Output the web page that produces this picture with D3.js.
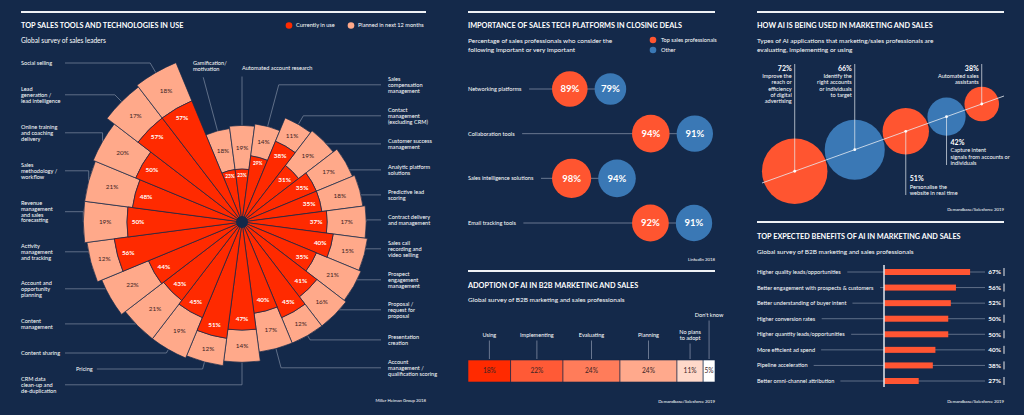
<!DOCTYPE html>
<html>
<head>
<meta charset="utf-8">
<script src="https://cdn.jsdelivr.net/npm/d3@7"></script>
<style>
  body { margin: 0; background: #14294a; }
  svg text { font-family: Lato, "Open Sans", sans-serif; fill: #fff; }
</style>
</head>
<body>
<div id="chart"></div>
<script>
// ---- data ----
var toolNames = [
  "Gamification/\nmotivation", "Automated account research", "Sales\ncompensation\nmanagement",
  "Contact\nmanagement\n(excluding CRM)", "Customer success\nmanagement", "Analytic platform\nsolutions",
  "Predictive lead\nscoring", "Contract delivery\nand management", "Sales call\nrecording and\nvideo selling",
  "Prospect\nengagement\nmanagement", "Proposal /\nrequest for\nproposal", "Presentation\ncreation",
  "Account\nmanagement /\nqualification scoring", "CRM data\nclean-up and\nde-duplication", "Pricing",
  "Content sharing", "Content\nmanagement", "Account and\nopportunity\nplanning",
  "Activity\nmanagement\nand tracking", "Revenue\nmanagement\nand sales\nforecasting", "Sales\nmethodology /\nworkflow",
  "Online training\nand coaching\ndelivery", "Lead\ngeneration /\nlead intelligence", "Social selling"
];
var toolsInUse   = [23, 23, 29, 38, 31, 35, 35, 37, 40, 35, 41, 45, 40, 47, 51, 45, 43, 44, 56, 50, 48, 50, 57, 57];
var toolsPlanned = [18, 19, 14, 11, 19, 17, 18, 17, 15, 21, 16, 12, 17, 14, 12, 19, 21, 22, 12, 19, 21, 20, 17, 18];

var platformNames = ["Networking platforms", "Collaboration tools", "Sales intelligence solutions", "Email tracking tools"];
var topPros   = [89, 94, 98, 92];
var otherPros = [79, 91, 94, 91];

var adoptNames  = ["Using", "Implementing", "Evaluating", "Planning", "No plans\nto adopt", "Don't know"];
var adoptValues = [18, 22, 24, 24, 11, 5];

var aiUseNames = ["Improve the\nreach or\nefficiency\nof digital\nadvertising", "Identify the\nright accounts\nor individuals\nto target",
  "Personalise the\nwebsite in real time", "Capture intent\nsignals from accounts or\nindividuals", "Automated sales\nassistants"];
var aiUseValues = [72, 66, 51, 42, 38];

var benefitNames = ["Higher quality leads/opportunities", "Better engagement with prospects & customers",
  "Better understanding of buyer intent", "Higher conversion rates", "Higher quantity leads/opportunities",
  "More efficient ad spend", "Pipeline acceleration", "Better omni-channel attribution"];
var benefitValues = [67, 56, 52, 50, 50, 40, 38, 27];

// ---- layout (label placement only) ----
var toolLabelX = [193, 242, 388, 388, 388, 388, 388, 388, 388, 388, 388, 388, 388, 21, 76, 21, 21, 21, 21, 21, 21, 21, 21, 21];
var toolLabelY = [63, 68, 79, 110, 141, 167, 192, 217, 243, 274, 304, 337, 362, 379, 369, 353, 321, 283, 246, 203, 165, 127, 89, 63];
var adoptLabelY = [335, 335, 335, 335, 332, 315];
var aiLabelBottom = [null, null, 195, 165, null];

var bg = "#14294a", red = "#ff2a00", peach = "#ffa98a", orange = "#ff5530", blue = "#3a78b5";
var grey = "#7f8ca2", darkText = "#3b2424";
var LH = 5.8;

var svg = d3.select("#chart").append("svg").attr("width", 1024).attr("height", 415);
svg.append("rect").attr("width", 1024).attr("height", 415).attr("fill", bg);

function lines(g, txt, x, y, lh, size, anchor, weight) {
  var t = g.append("text").attr("font-size", size).attr("text-anchor", anchor || "start");
  if (weight) t.attr("font-weight", weight);
  txt.split("\n").forEach(function(l, i) {
    t.append("tspan").attr("x", x).attr("y", y + i * lh).attr("dy", "0.35em").text(l);
  });
  return t;
}
function rule(x1, x2, y) {
  svg.append("line").attr("x1", x1).attr("x2", x2).attr("y1", y).attr("y2", y)
    .attr("stroke", "#eef1f5").attr("stroke-width", 2);
}
function title(x, y, txt) { lines(svg, txt, x, y, 0, 7.3, "start", "bold"); }
function source(x, y, txt) { lines(svg, txt, x, y, 0, 4.3, "end"); }

// ================= panel 1: radial =================
rule(21, 426, 12);
title(21, 25.5, "TOP SALES TOOLS AND TECHNOLOGIES IN USE");
lines(svg, "Global survey of sales leaders", 21, 41, 0, 6.6);
[["Currently in use", red, 289], ["Planned in next 12 months", peach, 351]].forEach(function(l) {
  svg.append("circle").attr("cx", l[2]).attr("cy", 25.5).attr("r", 3.3).attr("fill", l[1]);
  lines(svg, l[0], l[2] + 7, 25.5, 0, 5.6);
});
source(426, 400, "Miller Heiman Group 2018");

var cx = 242, cy = 222;
var idx = d3.range(toolNames.length);
var ang = d3.scaleBand().domain(idx).range([-Math.PI / 8, 2 * Math.PI - Math.PI / 8]).padding(0);
var rad = d3.scaleLinear().domain([0, 100]).range([0, 230]);
var arc = d3.arc();

var leaderG = svg.append("g");
var g1 = svg.append("g").attr("transform", "translate(" + cx + "," + cy + ")");

// labels + leader lines
idx.forEach(function(i) {
  var a = ang(i) + ang.bandwidth() / 2;
  var r = rad(toolsInUse[i] + toolsPlanned[i]);
  var dx = Math.sin(a), dy = -Math.cos(a);
  var ax = cx + r * dx, ay = cy + r * dy;
  var n = toolNames[i].split("\n").length;
  var top = i < 2, left = toolLabelX[i] < cx && !top;
  var t = lines(svg, toolNames[i], toolLabelX[i], toolLabelY[i], LH, 5.6);
  var ly = top ? toolLabelY[i] + (n - 1) * LH + 8.5 : toolLabelY[i] + (n - 1) * LH / 2;
  var ex = ax;
  if (Math.abs(dy) > 0.7) {
    var k = (ly - ay) / dy;
    if (k > 0) ex = ax + dx * k;
  }
  var p;
  if (top) p = "M" + ex + "," + ly + "L" + ax + "," + ay;
  else {
    var sx = left ? Math.max(65, toolLabelX[i] + t.node().getBBox().width + 4) : toolLabelX[i] - 7;
    p = "M" + sx + "," + ly + "H" + ex + "L" + ax + "," + ay;
  }
  leaderG.append("path").attr("d", p).attr("fill", "none").attr("stroke", grey).attr("stroke-width", 0.7);
});

g1.selectAll(".planned").data(idx).join("path")
  .attr("d", function(i) {
    return arc({ innerRadius: rad(toolsInUse[i]), outerRadius: rad(toolsInUse[i] + toolsPlanned[i]),
      startAngle: ang(i), endAngle: ang(i) + ang.bandwidth() });
  })
  .attr("fill", peach).attr("stroke", bg).attr("stroke-width", 0.7);
g1.selectAll(".inuse").data(idx).join("path")
  .attr("d", function(i) {
    return arc({ innerRadius: 0, outerRadius: rad(toolsInUse[i]), startAngle: ang(i), endAngle: ang(i) + ang.bandwidth() });
  })
  .attr("fill", red).attr("stroke", bg).attr("stroke-width", 0.7);
g1.append("circle").attr("r", 6).attr("fill", bg);

idx.forEach(function(i) {
  var a = ang(i) + ang.bandwidth() / 2;
  var small = toolsInUse[i] < 30;
  var r1 = rad(toolsInUse[i]) - (small ? 6 : 11);
  lines(g1, toolsInUse[i] + "%", r1 * Math.sin(a), -r1 * Math.cos(a), 0, small ? 4.8 : 6.4, "middle", "bold");
  var r2 = rad(toolsInUse[i] + toolsPlanned[i] / 2);
  lines(g1, toolsPlanned[i] + "%", r2 * Math.sin(a), -r2 * Math.cos(a), 0, 6.4, "middle").style("fill", darkText);
});

// ================= panel 2: importance =================
rule(468, 715, 12);
title(468, 25.5, "IMPORTANCE OF SALES TECH PLATFORMS IN CLOSING DEALS");
lines(svg, "Percentage of sales professionals who consider the\nfollowing important or very important", 468, 41, 8.3, 6.5);
[["Top sales professionals", orange, 40], ["Other", blue, 50]].forEach(function(l) {
  svg.append("circle").attr("cx", 653).attr("cy", l[2]).attr("r", 3.3).attr("fill", l[1]);
  lines(svg, l[0], 661, l[2], 0, 5.6);
});
source(715, 259, "LinkedIn 2018");

var rowY = d3.scalePoint().domain(platformNames).range([89, 223]);
var cr = d3.scaleLinear().domain([0, 100]).range([0, 20]);
platformNames.forEach(function(name, i) {
  var y = rowY(name);
  var x0 = i % 2 ? 632 : 552;
  var c1 = x0 + cr(topPros[i]);
  var c2 = x0 + 2 * cr(topPros[i]) + 7 + cr(otherPros[i]);
  var t = lines(svg, name, 468, y, 0, 5.6);
  var sx = Math.max(521, 468 + t.node().getBBox().width + 7);
  svg.append("line").attr("x1", sx).attr("x2", c2).attr("y1", y).attr("y2", y).attr("stroke", grey).attr("stroke-width", 0.8);
  svg.append("circle").attr("cx", c1).attr("cy", y).attr("r", cr(topPros[i])).attr("fill", orange);
  svg.append("circle").attr("cx", c2).attr("cy", y).attr("r", cr(otherPros[i])).attr("fill", blue);
  lines(svg, topPros[i] + "%", c1, y, 0, 9.5, "middle", "bold");
  lines(svg, otherPros[i] + "%", c2, y, 0, 9.5, "middle", "bold");
});

// ================= panel 3: adoption =================
rule(468, 715, 271);
title(468, 285.5, "ADOPTION OF AI IN B2B MARKETING AND SALES");
lines(svg, "Global survey of B2B marketing and sales professionals", 468, 300, 0, 6.5);
source(715, 401, "Demandbase/Salesforce 2019");

var adoptColors = ["#ff2a00", "#ff5a36", "#ff7c5a", "#ffa98c", "#ffd8c9", "#ffffff"];
var ax = d3.scaleLinear().domain([0, d3.sum(adoptValues)]).range([468, 715]);
var cum = 0;
adoptValues.forEach(function(v, i) {
  var xa = ax(cum), xb = ax(cum + v), mid = (xa + xb) / 2;
  cum += v;
  svg.append("rect").attr("x", xa).attr("y", 360).attr("width", xb - xa).attr("height", 22)
    .attr("fill", adoptColors[i]).attr("stroke", bg).attr("stroke-width", 0.6);
  lines(svg, v + "%", mid, 371, 0, 6.6, "middle").style("fill", darkText);
  var n = adoptNames[i].split("\n").length;
  lines(svg, adoptNames[i], mid, adoptLabelY[i], 6, 5.6, "middle");
  svg.append("line").attr("x1", mid).attr("x2", mid)
    .attr("y1", adoptLabelY[i] + (n - 1) * 6 + 5.5).attr("y2", 359)
    .attr("stroke", grey).attr("stroke-width", 0.8);
});

// ================= panel 4: AI use bubbles =================
rule(757, 1004, 12);
title(757, 25.5, "HOW AI IS BEING USED IN MARKETING AND SALES");
lines(svg, "Types of AI applications that marketing/sales professionals are\nevaluating, implementing or using", 757, 41, 8.3, 6.5);
source(1004, 209, "Demandbase/Salesforce 2019");

var p0 = [762, 183], p1 = [1004, 96];
var len = Math.hypot(p1[0] - p0[0], p1[1] - p0[1]);
var ux = (p1[0] - p0[0]) / len, uy = (p1[1] - p0[1]) / len;
var br = d3.scaleLinear().domain([0, 100]).range([0, 45.5]);
var s = 2;
var centers = aiUseValues.map(function(v, i) {
  s += br(v);
  var c = [p0[0] + ux * s, p0[1] + uy * s];
  s += br(v) + 1;
  return c;
});
aiUseValues.forEach(function(v, i) {
  svg.append("circle").attr("cx", centers[i][0]).attr("cy", centers[i][1]).attr("r", br(v))
    .attr("fill", i % 2 ? blue : orange);
});
svg.append("line").attr("x1", p0[0]).attr("y1", p0[1]).attr("x2", p1[0]).attr("y2", p1[1])
  .attr("stroke", "#e8ecf2").attr("stroke-width", 0.8);
aiUseValues.forEach(function(v, i) {
  var c = centers[i];
  var n = aiUseNames[i].split("\n").length;
  if (aiLabelBottom[i] == null) {
    svg.append("line").attr("x1", c[0]).attr("x2", c[0]).attr("y1", 64).attr("y2", c[1])
      .attr("stroke", "#e8ecf2").attr("stroke-width", 0.7);
    lines(svg, v + "%", c[0] - 3, 69, 0, 7, "end", "bold");
    lines(svg, aiUseNames[i], c[0] - 3, 76, 6.3, 5.6, "end");
  } else {
    var b = aiLabelBottom[i];
    svg.append("line").attr("x1", c[0]).attr("x2", c[0]).attr("y1", c[1]).attr("y2", b)
      .attr("stroke", "#e8ecf2").attr("stroke-width", 0.7);
    var first = b - 1.5 - (n - 1) * 6.6;
    lines(svg, v + "%", c[0] + 4, first - 8, 0, 7, "start", "bold");
    lines(svg, aiUseNames[i], c[0] + 4, first, 6.6, 5.6, "start");
  }
  svg.append("circle").attr("cx", c[0]).attr("cy", c[1]).attr("r", 1.4).attr("fill", "#fff");
});

// ================= panel 5: benefits =================
rule(757, 1004, 222);
title(757, 236, "TOP EXPECTED BENEFITS OF AI IN MARKETING AND SALES");
lines(svg, "Global survey of B2B marketing and sales professionals", 757, 251.5, 0, 6.5);
source(1004, 401, "Demandbase/Salesforce 2019");

var by = d3.scalePoint().domain(benefitNames).range([272, 381]);
var bx = d3.scaleLinear().domain([0, 100]).range([884, 1012.5]);
benefitNames.forEach(function(name, i) {
  var y = by(name);
  var t = lines(svg, name, 757, y, 0, 5.6);
  svg.append("line").attr("x1", 757 + t.node().getBBox().width + 6).attr("x2", 985).attr("y1", y).attr("y2", y)
    .attr("stroke", grey).attr("stroke-width", 0.7);
  svg.append("rect").attr("x", bx(0)).attr("y", y - 3).attr("width", bx(benefitValues[i]) - bx(0)).attr("height", 6)
    .attr("fill", "#ff5533");
  lines(svg, benefitValues[i] + "%", 1001, y, 0, 6.4, "end", "bold");
  svg.append("line").attr("x1", 1004).attr("x2", 1004).attr("y1", y - 4).attr("y2", y + 4)
    .attr("stroke", "#fff").attr("stroke-width", 0.9);
});
svg.append("line").attr("x1", bx(0)).attr("x2", bx(0)).attr("y1", 265).attr("y2", 387)
  .attr("stroke", "#e3e7ee").attr("stroke-width", 1.5);
</script>
</body>
</html>
